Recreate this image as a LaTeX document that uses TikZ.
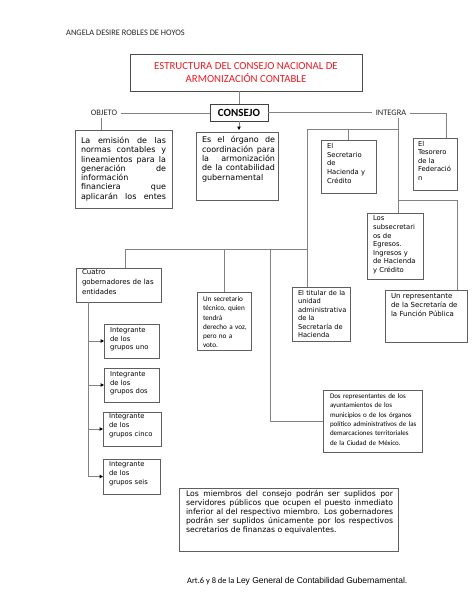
\documentclass[tikz,border=0pt]{standalone}
\usepackage{fontspec}
\setmainfont{Carlito}
\newfontfamily\dv{DejaVu Sans}
\newfontfamily\lib{Liberation Sans}
\usetikzlibrary{arrows.meta}
\tolerance=10000 \hbadness=10000 \vbadness=10000
\hyphenpenalty=10000 \exhyphenpenalty=10000
\definecolor{boxcol}{RGB}{95,95,95}
\definecolor{linecol}{RGB}{130,130,130}
\definecolor{titlered}{RGB}{237,28,36}
\tikzset{
 tbox/.style={draw=boxcol, line width=0.8pt, inner sep=0pt, outer sep=0pt},
 tbtext/.style={inner sep=0pt, outer sep=0pt},
 conn/.style={draw=linecol, line width=0.9pt},
 arr/.style={conn, -{Triangle[length=3.4pt,width=3.4pt,color=black]}},
 lbl/.style={font=\fontsize{8.4}{10}\selectfont, inner xsep=4pt, inner ysep=1pt, text=black!85},
 dvj/.style={font=\dv\fontsize{8}{9.3}\selectfont, align=justify},
 dvs/.style={font=\dv\fontsize{6.8}{8.6}\selectfont, align=left},
 cas/.style={font=\fontsize{7.2}{9.3}\selectfont, align=left},
}
\newcommand\txbox[7]{%
  \node[tbox, minimum width={#4-#2}, minimum height={#5-#3}, anchor=north west] (#1) at (#2,-#3) {};
  \node[tbtext, #6, anchor=north west] (#1t) at (#1.north west) {#7};}
\begin{document}
\begin{tikzpicture}[x=1pt,y=1pt]
\useasboundingbox (0,0) rectangle (474,-613);
\fill[white] (0,0) rectangle (474,-613);
% header
\node[anchor=west, inner sep=0pt, font=\fontsize{8.4}{10}\selectfont, text=black!85] (hdr) at (66,-33) {ANGELA DESIRE ROBLES DE HOYOS};
% title and consejo
\node[tbox, line width=1pt, draw=black!70, minimum width=232, minimum height=37, text=titlered, align=center, font=\fontsize{10.8}{13.5}\selectfont] (title) at (246,-72.5) {ESTRUCTURA DEL CONSEJO NACIONAL DE\\ARMONIZACIÓN CONTABLE};
\node[tbox, line width=1pt, draw=black!75, minimum width=58, minimum height=17, font=\bfseries\fontsize{11}{13}\selectfont] (consejo) at (239,-112.5) {CONSEJO};
\node[lbl] (objeto) at (104,-113) {OBJETO};
\node[lbl] (integra) at (391,-113) {INTEGRA};
% boxes
\txbox{emision}{75}{130}{172}{208}{dvj, text width=85pt, xshift=6pt, yshift=-7pt}{La emisión de las\linebreak normas contables y\linebreak lineamientos para la\linebreak generación de\linebreak información\linebreak financiera que\linebreak aplicarán los entes\parfillskip=0pt\par}
\txbox{es}{196}{132}{278}{200}{dvj, text width=73pt, xshift=6pt, yshift=-4.5pt}{Es el órgano de\linebreak coordinación para\linebreak la armonización\linebreak de la contabilidad\linebreak gubernamental}
\txbox{secre}{321}{140}{376}{193}{dvs, text width=46pt, xshift=6pt, yshift=-3.5pt}{El\\Secretario\\de\\Hacienda y\\Crédito}
\txbox{teso}{413}{138}{457}{190}{dvs, text width=38pt, xshift=5pt, yshift=-3pt}{El\\Tesorero\\de la\\Federació\\n}
\txbox{subsec}{367}{213}{423}{279}{dvs, text width=46pt, xshift=6pt, yshift=-3pt}{Los\\subsecretari\\os de\\Egresos.\\Ingresos y\\de Hacienda\\y Crédito}
\txbox{gob}{76}{268}{161}{302}{font=\dv\fontsize{7}{9.7}\selectfont, align=left, text width=76pt, xshift=6pt, yshift=-1.5pt}{Cuatro\\gobernadores de las\\entidades}
\txbox{tecnico}{197}{292}{251}{350}{cas, text width=48pt, xshift=6pt, yshift=-4.5pt}{Un secretario\\técnico, quien\\tendrá\\derecho a voz,\\pero no a\\voto.}
\txbox{titular}{292}{287}{350}{341}{font=\dv\fontsize{6.7}{8.4}\selectfont, align=left, text width=50pt, xshift=6pt, yshift=-3.5pt}{El titular de la\\unidad\\administrativa\\de la\\Secretaría de\\Hacienda}
\txbox{repre}{385}{290}{467}{342}{font=\dv\fontsize{7}{9.2}\selectfont, align=left, text width=72pt, xshift=6pt, yshift=-3pt}{Un representante\\de la Secretaría de\\la Función Pública}
\txbox{uno}{104}{324}{159}{358}{dvs, text width=48pt, xshift=6pt, yshift=-3.5pt}{Integrante\\de los\\grupos uno}
\txbox{dos}{104}{368}{159}{402}{dvs, text width=48pt, xshift=6pt, yshift=-3.5pt}{Integrante\\de los\\grupos dos}
\txbox{cinco}{103}{412}{161}{446}{dvs, text width=50pt, xshift=6pt, yshift=-2pt}{Integrante\\de los\\grupos cinco}
\txbox{seis}{103}{459}{160}{494}{dvs, text width=50pt, xshift=6pt, yshift=-3pt}{Integrante\\de los\\grupos seis}
\txbox{dosrep}{323}{390}{422}{452}{font=\fontsize{7}{9.4}\selectfont, align=left, text width=90pt, xshift=7pt, yshift=-3.5pt}{Dos representantes de los\\ayuntamientos de los\\municipios o de los órganos\\político administrativos de las\\demarcaciones territoriales\\de la Ciudad de México.}
\txbox{miembros}{179}{488}{398}{551}{font=\dv\fontsize{7.7}{9.2}\selectfont, align=justify, text width=207pt, xshift=7pt, yshift=-2pt}{Los miembros del consejo podrán ser suplidos por\linebreak servidores públicos que ocupen el puesto inmediato\linebreak inferior al del respectivo miembro. Los gobernadores\linebreak podrán ser suplidos únicamente por los respectivos\linebreak secretarios de finanzas o equivalentes.}
% footer
\node[anchor=west, inner sep=0pt] (art) at (187,-581) {{\fontsize{8.4}{10}\selectfont Art.6 y 8 de la }{\lib\fontsize{8.5}{10}\selectfont Ley General de Contabilidad Gubernamental.}};
% connectors
\draw[conn] (title.south -| consejo.north) -- (consejo.north);
\draw[conn] (objeto.east) -- (objeto.east -| consejo.west);
\coordinate (ob) at (101,-118);
\draw[conn] (ob) -- (ob |- emision.north);
\draw[arr, shorten >=2pt] (consejo.south) -- (consejo.south |- es.north);
\draw[conn] (consejo.east) -- (consejo.east -| integra.west);
\coordinate (tj) at (446,-113);
\draw[conn] (integra.east) -- (tj) -- (tj |- teso.north);
\coordinate (iv) at (398,-118);
\draw[conn] (iv) -- (iv |- subsec.north);
\coordinate (h1) at (307,-129);
\draw[conn] (h1) -- (h1 -| iv);
\draw[conn] (h1) -- (h1 |- titular.north);
\draw[conn] (secre.north |- h1) -- (secre.north);
\coordinate (rp) at (457,-200);
\draw[conn] (iv |- rp) -- (rp) -- (rp |- repre.north);
\coordinate (h3) at (125,-249);
\draw[conn] (h3) -- (h3 -| h1);
\draw[conn] (h3) -- (h3 |- gob.north);
\draw[conn] (tecnico.north |- h3) -- (tecnico.north);
\coordinate (d3) at (270,-249);
\draw[conn] (d3) |- (dosrep.west);
\coordinate (gv) at (88,-302);
\draw[conn] (gv) -- (gv |- seis.west);
\draw[arr] (gv |- uno.west) -- (uno.west);
\draw[arr] (gv |- dos.west) -- (dos.west);
\draw[arr] (gv |- cinco.west) -- (cinco.west);
\draw[arr] (gv |- seis.west) -- (seis.west);
\end{tikzpicture}
\end{document}
